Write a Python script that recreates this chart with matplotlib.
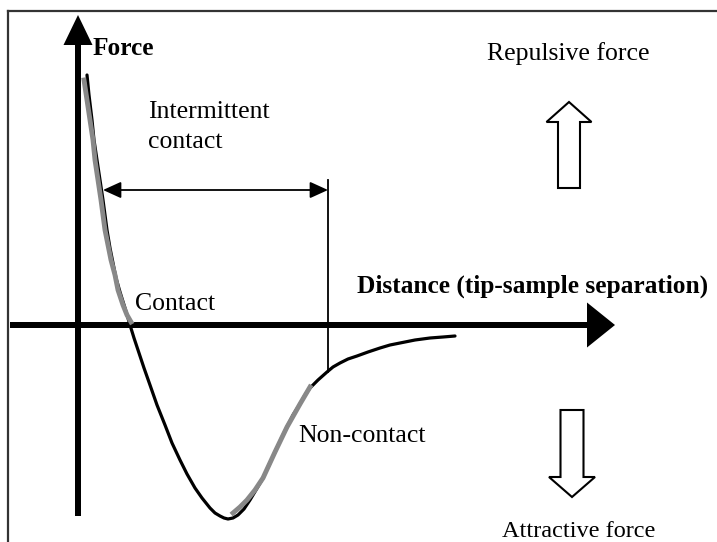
import matplotlib.pyplot as plt
from matplotlib.lines import Line2D
from matplotlib.patches import FancyArrowPatch

# Force-distance curve (arbitrary units, origin at the axis crossing)
distance = [0.09, 0.11, 0.14, 0.16, 0.19, 0.22, 0.25, 0.27, 0.29, 0.32, 0.35,
            0.38, 0.42, 0.47, 0.52, 0.56, 0.60, 0.66, 0.72, 0.79, 0.87, 0.94,
            1.02, 1.09, 1.17, 1.24, 1.32, 1.37, 1.42, 1.46, 1.50, 1.55, 1.60,
            1.66, 1.72, 1.78, 1.85, 1.91, 1.97, 2.03, 2.09, 2.15, 2.22, 2.27,
            2.32, 2.40, 2.49, 2.55, 2.62, 2.70, 2.79, 2.90, 3.02, 3.12, 3.22,
            3.37, 3.52, 3.65, 3.77]
force = [2.50, 2.30, 2.05, 1.85, 1.65, 1.45, 1.25, 1.10, 0.95, 0.77, 0.62,
         0.47, 0.33, 0.17, 0.00, -0.13, -0.25, -0.43, -0.60, -0.80, -1.00,
         -1.18, -1.35, -1.49, -1.63, -1.73, -1.83, -1.88, -1.91, -1.93, -1.94,
         -1.93, -1.90, -1.84, -1.75, -1.65, -1.53, -1.40, -1.27, -1.14, -1.02,
         -0.90, -0.79, -0.70, -0.63, -0.55, -0.47, -0.42, -0.38, -0.34, -0.31,
         -0.27, -0.23, -0.20, -0.18, -0.15, -0.13, -0.12, -0.11]

# grey highlighted regimes
contact_d = [0.06, 0.09, 0.12, 0.15, 0.17, 0.20, 0.23, 0.27, 0.30, 0.33, 0.37,
             0.40, 0.45, 0.49, 0.53]
contact_f = [2.45, 2.25, 2.05, 1.85, 1.65, 1.45, 1.25, 0.95, 0.80, 0.65, 0.50,
             0.35, 0.20, 0.10, 0.03]
noncontact_d = [1.55, 1.62, 1.69, 1.77, 1.85, 1.97, 2.09, 2.22, 2.32]
noncontact_f = [-1.88, -1.82, -1.75, -1.65, -1.53, -1.27, -1.02, -0.79, -0.62]

# range of intermittent contact
intermittent_start = 0.25
intermittent_end = 2.50
intermittent_level = 1.35
marker_top = 1.45
marker_bottom = -0.47

fig = plt.figure(figsize=(7.17, 5.42), dpi=100)
ax = fig.add_axes([0, 0, 1, 1])
ax.set_xlim(-0.78, 6.39)
ax.set_ylim(-2.17, 3.25)
ax.axis("off")

serif = "Liberation Serif"

# frame (top and left only)
fig.add_artist(Line2D([8 / 717, 1], [1 - 11 / 542] * 2, color="#333333", lw=1.6))
fig.add_artist(Line2D([8 / 717] * 2, [0, 1 - 11 / 542], color="#333333", lw=1.6))

# axes arrows
ax.arrow(0, -1.91, 0, 5.01, width=0.06, head_width=0.29, head_length=0.30,
         length_includes_head=True, color="black", lw=0)
ax.arrow(-0.68, 0, 6.05, 0, width=0.06, head_width=0.45, head_length=0.28,
         length_includes_head=True, color="black", lw=0)

# curve
ax.plot(distance, force, color="black", lw=2.3, solid_capstyle="round",
        solid_joinstyle="round", zorder=3)
ax.plot(contact_d, contact_f, color="#888888", lw=3.5,
        solid_joinstyle="round", zorder=4)
ax.plot(noncontact_d, noncontact_f, color="#888888", lw=3.5,
        solid_joinstyle="round", zorder=4)

# intermittent contact range
ax.plot([intermittent_end, intermittent_end], [marker_bottom, marker_top],
        color="black", lw=1.3)
ax.add_patch(FancyArrowPatch((intermittent_start, intermittent_level),
                             (intermittent_end, intermittent_level),
                             arrowstyle="<|-|>,head_length=11,head_width=5",
                             mutation_scale=1, shrinkA=0, shrinkB=0,
                             color="black", lw=1.3))

# hollow arrows for force direction
ax.arrow(4.91, 1.37, 0, 0.86, width=0.22, head_width=0.45, head_length=0.20,
         length_includes_head=True, fill=False, ec="black", lw=1.5)
ax.arrow(4.94, -0.85, 0, -0.87, width=0.23, head_width=0.46, head_length=0.20,
         length_includes_head=True, fill=False, ec="black", lw=1.5)

# labels
ax.text(0.15, 2.70, "Force", family=serif, weight="bold", fontsize=18.3, va="baseline")
ax.text(2.79, 0.32, "Distance (tip-sample separation)", family=serif,
        weight="bold", fontsize=18.3, va="baseline")
ax.text(0.70, 2.07, "Intermittent", family=serif, fontsize=18.5, va="baseline")
ax.text(0.70, 1.77, "contact", family=serif, fontsize=18.5, va="baseline")
ax.text(0.57, 0.15, "Contact", family=serif, fontsize=18.5, va="baseline")
ax.text(2.20, -1.17, "Non-contact", family=serif, fontsize=18.5, va="baseline")
ax.text(4.09, 2.65, "Repulsive force", family=serif, fontsize=18.5, va="baseline")
ax.text(4.24, -2.12, "Attractive force", family=serif, fontsize=17.5, va="baseline")

fig.savefig("out.png", dpi=100)
